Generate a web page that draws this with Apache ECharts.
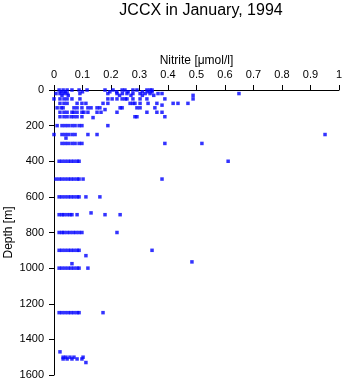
<!DOCTYPE html>
<html><head><meta charset="utf-8">
<script src="https://cdn.jsdelivr.net/npm/echarts@6/dist/echarts.min.js"></script>
<style>html,body{margin:0;padding:0;background:#fff}#c{width:345px;height:384px}</style>
</head><body><div id="c"></div>
<script>
// Depth levels [m] and nitrite values [µmol/l] observed at each level
var depthLevels = [0, 10, 20, 30, 50, 75, 85, 100, 110, 125, 150, 155, 200, 250, 270, 300, 400, 500, 600, 690, 700, 800, 900, 930, 965, 975, 1000, 1250, 1470, 1500, 1510, 1530];
var nitriteByLevel = [
  [0.018,0.032,0.046,0.063,0.088,0.116,0.179,0.207,0.239,0.249,0.277,0.291,0.326,0.344,0.337],
  [0.025,0.039,0.10,0.196,0.22,0.26,0.31,0.33,0.344],
  [0.007,0.021,0.035,0.046,0.091,0.189,0.221,0.24,0.256,0.277,0.302,0.32,0.337,0.365,0.379,0.649],
  [0.028,0.05,0.23,0.27,0.31,0.35,0.488],
  [0.0,0.021,0.035,0.046,0.063,0.091,0.189,0.204,0.221,0.239,0.25,0.256,0.277,0.302,0.326,0.389,0.488],
  [0.021,0.035,0.046,0.081,0.098,0.112,0.172,0.189,0.267,0.277,0.284,0.302,0.330,0.361,0.418,0.435,0.470],
  [0.379],
  [0.011,0.025,0.032,0.07,0.081,0.098,0.119,0.13,0.151,0.161,0.232,0.239,0.291,0.302,0.354],
  [0.179],
  [0.021,0.035,0.046,0.063,0.07,0.081,0.098,0.105,0.119,0.151,0.165,0.221,0.326,0.361,0.379],
  [0.021,0.035,0.046,0.06,0.07,0.081,0.098,0.284,0.291,0.389],
  [0.137],
  [0.011,0.028,0.039,0.05,0.063,0.074,0.088,0.098,0.189],
  [0.0,0.028,0.039,0.05,0.063,0.074,0.119,0.151,0.951],
  [0.042],
  [0.028,0.039,0.05,0.063,0.074,0.088,0.098,0.389,0.519],
  [0.018,0.028,0.039,0.05,0.06,0.07,0.081,0.088,0.611],
  [0.007,0.018,0.028,0.039,0.05,0.06,0.07,0.081,0.088,0.102,0.379],
  [0.018,0.028,0.039,0.05,0.06,0.07,0.081,0.088,0.112,0.161],
  [0.130],
  [0.018,0.028,0.035,0.046,0.056,0.063,0.081,0.179,0.232],
  [0.018,0.028,0.035,0.046,0.056,0.067,0.077,0.088,0.098,0.221],
  [0.018,0.028,0.039,0.05,0.06,0.07,0.081,0.088,0.344],
  [0.112],
  [0.484],
  [0.063],
  [0.018,0.028,0.039,0.05,0.06,0.07,0.081,0.088,0.119],
  [0.018,0.028,0.039,0.05,0.06,0.07,0.081,0.088,0.172],
  [0.021],
  [0.032,0.042,0.056,0.07,0.102],
  [0.032,0.046,0.063,0.081,0.098],
  [0.112]
];
var xTicks = {min: 0, max: 1, step: 0.1};
var yTicks = {min: 0, max: 1600, step: 200};

var points = [];
depthLevels.forEach(function(d, i){
  nitriteByLevel[i].forEach(function(v){ points.push([v, d]); });
});

var font = 'Liberation Sans, Arial, Helvetica, sans-serif';
var chart = echarts.init(document.getElementById('c'), null, {renderer: 'canvas'});
chart.setOption({
  animation: false,
  backgroundColor: '#fff',
  title: {
    text: 'JCCX in January, 1994', left: 196, top: -2, textAlign: 'center',
    textStyle: {fontFamily: font, fontSize: 16, fontWeight: 'normal', color: '#000'}
  },
  grid: {left: 54, top: 90, right: 6, bottom: 9, containLabel: false, outerBoundsMode: 'none'},
  xAxis: {
    type: 'value', position: 'top', min: xTicks.min, max: xTicks.max, interval: xTicks.step,
    name: 'Nitrite [μmol/l]', nameLocation: 'middle', nameGap: 23, nameMoveOverlap: false,
    nameTextStyle: {fontFamily: font, fontSize: 12, color: '#000'},
    axisLine: {show: true, lineStyle: {color: '#000', width: 1}},
    axisTick: {show: true, length: 5, lineStyle: {color: '#000'}},
    axisLabel: {fontFamily: font, fontSize: 11, color: '#000', margin: 10,
      formatter: function(v){ return String(Math.round(v * 10) / 10); }},
    splitLine: {show: false}
  },
  yAxis: {
    type: 'value', inverse: true, min: yTicks.min, max: yTicks.max, interval: yTicks.step,
    name: 'Depth [m]', nameLocation: 'middle', nameGap: 39, nameMoveOverlap: false,
    nameTextStyle: {fontFamily: font, fontSize: 12, color: '#000'},
    axisLine: {show: true, lineStyle: {color: '#000', width: 1}},
    axisTick: {show: true, length: 5, lineStyle: {color: '#000'}},
    axisLabel: {fontFamily: font, fontSize: 11, color: '#000', margin: 10,
      formatter: function(v){ return String(v); }},
    splitLine: {show: false}
  },
  series: [{
    type: 'scatter', data: points, symbol: 'rect', symbolSize: 3.5,
    itemStyle: {color: '#0000ff'}
  }]
});
</script></body></html>
